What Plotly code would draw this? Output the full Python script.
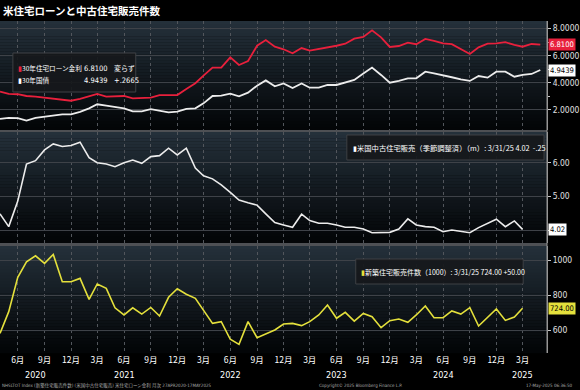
import numpy as np
import pandas as pd
import plotly.graph_objects as go

# ---------------- data ----------------
rate_dates = pd.date_range("2020-04-01", "2025-05-01", freq="MS")
sales_dates = pd.date_range("2020-04-01", "2025-03-01", freq="MS")

mortgage_30y = [
    3.35, 3.18, 3.16, 3.03, 2.98, 2.91, 2.86, 2.79, 2.68,
    2.81, 2.98, 3.18, 2.98, 2.98, 3.03, 2.86, 2.86, 2.91, 3.10, 3.10, 3.10,
    3.55, 3.97, 4.53, 5.12, 5.12, 5.88, 5.31, 5.61, 6.73, 7.15, 6.66, 6.47,
    6.17, 6.56, 6.37, 6.48, 6.62, 6.73, 6.88, 7.25, 7.38, 7.86, 7.35, 6.64,
    6.71, 6.96, 6.84, 7.23, 7.08, 6.91, 6.85, 6.47, 6.12, 6.61, 6.88, 6.91,
    6.99, 6.79, 6.66, 6.86, 6.81,
]
treasury_30y = [
    1.35, 1.42, 1.40, 1.22, 1.42, 1.50, 1.58, 1.68, 1.68,
    1.86, 2.12, 2.42, 2.32, 2.24, 2.12, 1.90, 1.90, 2.06, 1.94, 1.82, 1.88,
    2.08, 2.12, 2.49, 3.03, 3.05, 3.20, 3.01, 3.28, 3.79, 4.18, 3.74, 3.96,
    3.62, 3.95, 3.64, 3.64, 3.84, 3.84, 4.02, 4.21, 4.68, 5.12, 4.58, 4.01,
    4.14, 4.33, 4.33, 4.82, 4.70, 4.58, 4.41, 4.26, 4.14, 4.50, 4.38, 4.82,
    4.82, 4.45, 4.58, 4.65, 4.9439,
]
existing_home_sales = [
    4.48, 4.10, 4.86, 5.96, 6.06, 6.38, 6.56, 6.48, 6.51,
    6.61, 6.15, 6.00, 5.96, 5.88, 6.00, 6.08, 5.98, 6.18, 6.21, 6.43, 6.23,
    6.43, 5.84, 5.61, 5.52, 5.34, 5.12, 4.89, 4.81, 4.74, 4.48, 4.22, 4.15,
    4.08, 4.47, 4.28, 4.20, 4.20, 4.15, 4.08, 4.08, 4.03, 3.92, 3.92, 3.93,
    4.03, 4.33, 4.15, 4.10, 4.08, 3.95, 4.00, 3.97, 3.92, 4.07, 4.20, 4.32,
    4.10, 4.27, 4.02,
]
new_home_sales = [
    581, 705, 901, 990, 1024, 981, 1032, 876, 876,
    895, 775, 863, 838, 727, 686, 727, 691, 729, 680, 787, 836,
    804, 781, 710, 638, 648, 547, 518, 648, 556, 577, 600, 634,
    638, 625, 648, 686, 743, 667, 701, 651, 695, 676, 613, 653,
    663, 644, 686, 737, 670, 670, 709, 691, 728, 623, 672, 720,
    655, 674, 724,
]

tick_dates = pd.date_range("2020-06-01", "2025-03-01", freq="3MS")
tick_labels = [f"{d.month}月" for d in tick_dates]
year_labels = ["2020", "2021", "2022", "2023", "2024", "2025"]
year_label_dates = ["2020-08-01", "2021-06-01", "2022-06-01",
                    "2023-06-01", "2024-06-01", "2025-03-01"]

top_ticks = [2, 4, 6, 8]
mid_ticks = [4, 5, 6]
mid_tick_text = ["", "5.00", "6.00"]
bot_ticks = [600, 800, 1000]

title_text = "米住宅ローンと中古住宅販売件数"
legend_mortgage = ["30年住宅ローン金利", "6.8100", "変らず"]
legend_treasury = ["30年国債", "4.9439", "+.2665"]
legend_existing = "米国中古住宅販売（季節調整済）（m）: 3/31/25 4.02  -.25"
legend_new = "新築住宅販売件数（1000）: 3/31/25 724.00 +50.00"

# ---------------- styling / layout helpers ----------------
W, H = 580, 390
ML, MR, MT, MB = 0, 28, 21, 37
PW, PH = W - ML - MR, H - MT - MB
BOTTOM_PX = H - MB


def px(xp):
    return (xp - ML) / PW


def py(yp):
    return (BOTTOM_PX - yp) / PH


RED = "#e8203c"
WHITE = "#ececec"
YELLOW = "#e4e03c"
NUMFONT = "Liberation Sans Narrow, DejaVu Sans Condensed, Noto Sans CJK JP, sans-serif"
CJKFONT = "Noto Sans CJK JP, sans-serif"

panels = {
    "top": (21, 130),
    "mid": (132, 243),
    "bot": (246, BOTTOM_PX),
}

fig = go.Figure()

fig.add_trace(go.Scatter(x=rate_dates, y=mortgage_30y, mode="lines",
                         line=dict(color=RED, width=1.8), yaxis="y"))
fig.add_trace(go.Scatter(x=rate_dates, y=treasury_30y, mode="lines",
                         line=dict(color=WHITE, width=1.8), yaxis="y"))
fig.add_trace(go.Scatter(x=sales_dates, y=existing_home_sales, mode="lines",
                         line=dict(color=WHITE, width=1.6), yaxis="y2"))
fig.add_trace(go.Scatter(x=sales_dates, y=new_home_sales, mode="lines",
                         line=dict(color=YELLOW, width=1.6), yaxis="y3"))

shapes = []
# gradient backgrounds
top_c = np.array([36, 48, 58])
bot_c = np.array([3, 5, 7])
N = 36
for (y0p, y1p) in panels.values():
    h = (y1p - y0p) / N
    for i in range(N):
        t = i / (N - 1)
        c = top_c + (bot_c - top_c) * t
        shapes.append(dict(type="rect", xref="paper", yref="paper",
                           x0=0, x1=1, y0=py(y0p + (i + 1) * h + 0.3),
                           y1=py(y0p + i * h), layer="below", line_width=0,
                           fillcolor=f"rgb({int(c[0])},{int(c[1])},{int(c[2])})"))
# panel separators
for yp, wdt in [(131, 2), (244.5, 3)]:
    shapes.append(dict(type="line", xref="paper", yref="paper", x0=0, x1=1,
                       y0=py(yp), y1=py(yp), layer="below",
                       line=dict(color="rgb(78,80,84)", width=wdt)))
# right axis line spanning everything
shapes.append(dict(type="line", xref="paper", yref="paper", x0=1, x1=1,
                   y0=0, y1=py(21), line=dict(color="rgb(150,150,150)", width=1)))
# legend boxes
for (x0, x1, y0, y1) in [(13, 137, 53, 92), (350, 549, 135, 160), (359, 528, 259, 284)]:
    shapes.append(dict(type="rect", xref="paper", yref="paper",
                       x0=px(x0), x1=px(x1), y0=py(y1), y1=py(y0),
                       fillcolor="rgba(22,24,27,0.92)",
                       line=dict(color="rgb(62,64,68)", width=1), layer="above"))

ann = []
# title
ann.append(dict(xref="paper", yref="paper", x=px(1), y=py(10), xanchor="left",
                yanchor="middle", showarrow=False,
                text=f"<b>{title_text}</b>",
                font=dict(family=CJKFONT, size=10.5, color="white")))
# top legend
for yp, col, parts in [(68, RED, legend_mortgage), (80, "white", legend_treasury)]:
    ann.append(dict(xref="paper", yref="paper", x=px(16), y=py(yp), xanchor="left",
                    yanchor="middle", showarrow=False,
                    text=f"<span style='color:{col}'>▮</span>{parts[0]}",
                    font=dict(family=CJKFONT, size=6.6, color="white")))
    ann.append(dict(xref="paper", yref="paper", x=px(111), y=py(yp), xanchor="right",
                    yanchor="middle", showarrow=False, text=parts[1],
                    font=dict(family=NUMFONT, size=7.5, color="white")))
    plus = parts[2].startswith("+")
    ann.append(dict(xref="paper", yref="paper", x=px(113), y=py(yp), xanchor="left",
                    yanchor="middle", showarrow=False, text=parts[2],
                    font=dict(family=NUMFONT if plus else CJKFONT,
                              size=7.5 if plus else 7, color="white")))
# middle & bottom legends
ann.append(dict(xref="paper", yref="paper", x=px(354), y=py(148), xanchor="left",
                yanchor="middle", showarrow=False,
                text=f"<span style='color:white'>▮</span>{legend_existing}",
                font=dict(family=CJKFONT, size=7.3, color="white")))
ann.append(dict(xref="paper", yref="paper", x=px(362), y=py(272), xanchor="left",
                yanchor="middle", showarrow=False,
                text=f"<span style='color:{YELLOW}'>▮</span>{legend_new}",
                font=dict(family=CJKFONT, size=7, color="white")))
# value badges on the right axis
for yref, val, txt, bg, fc in [("y", mortgage_30y[-1], f"{mortgage_30y[-1]:.4f}", RED, "white"),
                               ("y", treasury_30y[-1], f"{treasury_30y[-1]:.4f}", "white", "black"),
                               ("y2", existing_home_sales[-1], f"{existing_home_sales[-1]:.2f}", "white", "black"),
                               ("y3", new_home_sales[-1], f"{new_home_sales[-1]:.2f}", YELLOW, "black")]:
    ann.append(dict(xref="paper", yref=yref, x=1, y=val, xanchor="left", yanchor="middle",
                    xshift=1, showarrow=False, text=txt, bgcolor=bg, borderpad=1,
                    align="left",
                    font=dict(family=NUMFONT, size=7.6, color=fc)))
# year labels
for lab, d in zip(year_labels, year_label_dates):
    ann.append(dict(xref="x", yref="paper", x=d, y=py(375), xanchor="center",
                    yanchor="middle", showarrow=False, text=lab,
                    font=dict(family=NUMFONT, size=9, color="white")))
# footer
ann.append(dict(xref="paper", yref="paper", x=0, y=py(386), xanchor="left", yanchor="middle",
                showarrow=False,
                text="NHSLTOT Index (新築住宅販売件数) (米国中古住宅販売) 米住宅ローン金利 月次 27APR2020-17MAY2025",
                font=dict(family=NUMFONT, size=4.5, color="rgb(170,170,170)")))
ann.append(dict(xref="paper", yref="paper", x=px(320), y=py(386), xanchor="left", yanchor="middle",
                showarrow=False, text="Copyright© 2025 Bloomberg Finance L.P.",
                font=dict(family=NUMFONT, size=4.5, color="rgb(170,170,170)")))
ann.append(dict(xref="paper", yref="paper", x=(580 - ML) / PW, y=py(386), xanchor="right",
                yanchor="middle", showarrow=False, text="17-May-2025 06:36:50",
                font=dict(family=NUMFONT, size=4.5, color="rgb(170,170,170)")))

GRID_H = "rgb(62,66,72)"
GRID_V = "rgb(82,86,92)"
yax_common = dict(side="right", anchor="x", showline=True, linecolor="rgb(150,150,150)",
                  ticks="outside", ticklen=3, tickcolor="rgb(200,200,200)",
                  tickfont=dict(family=NUMFONT, size=8.5, color="rgb(225,225,225)"),
                  gridcolor=GRID_H, gridwidth=1, zeroline=False, fixedrange=True)

fig.update_layout(
    width=W, height=H,
    margin=dict(l=ML, r=MR, t=MT, b=MB),
    paper_bgcolor="black", plot_bgcolor="rgba(0,0,0,0)",
    showlegend=False, hovermode=False,
    xaxis=dict(type="date", range=["2020-04-01", "2025-05-24"], anchor="y3",
               tickvals=tick_dates, ticktext=tick_labels, ticks="",
               tickfont=dict(family=CJKFONT, size=8.5, color="white"),
               showgrid=True, gridcolor=GRID_V, griddash="dot", gridwidth=1,
               showline=False, zeroline=False, fixedrange=True),
    yaxis=dict(domain=[py(panels["top"][1]), py(panels["top"][0])],
               range=[8 - (130 - 28.5) / 13.58, 8 + (28.5 - 21) / 13.58],
               tickvals=top_ticks, tickformat=".4f",
               minor=dict(tickvals=[3, 5, 7], ticks="outside", ticklen=2,
                          tickcolor="rgb(200,200,200)", showgrid=False),
               **yax_common),
    yaxis2=dict(domain=[py(panels["mid"][1]), py(panels["mid"][0])],
                range=[4 - (243 - 230) / 33.65, 6 + (162.7 - 132) / 33.65],
                tickvals=mid_ticks, ticktext=mid_tick_text, **yax_common),
    yaxis3=dict(domain=[py(panels["bot"][1]), py(panels["bot"][0])],
                range=[600 - (BOTTOM_PX - 330) / 0.175, 1000 + (260 - 246) / 0.175],
                tickvals=bot_ticks, tickformat="d", **yax_common),
    shapes=shapes, annotations=ann,
)

fig.write_html("out.html", config={"displayModeBar": False},
               post_script="document.body.style.margin='0';")
